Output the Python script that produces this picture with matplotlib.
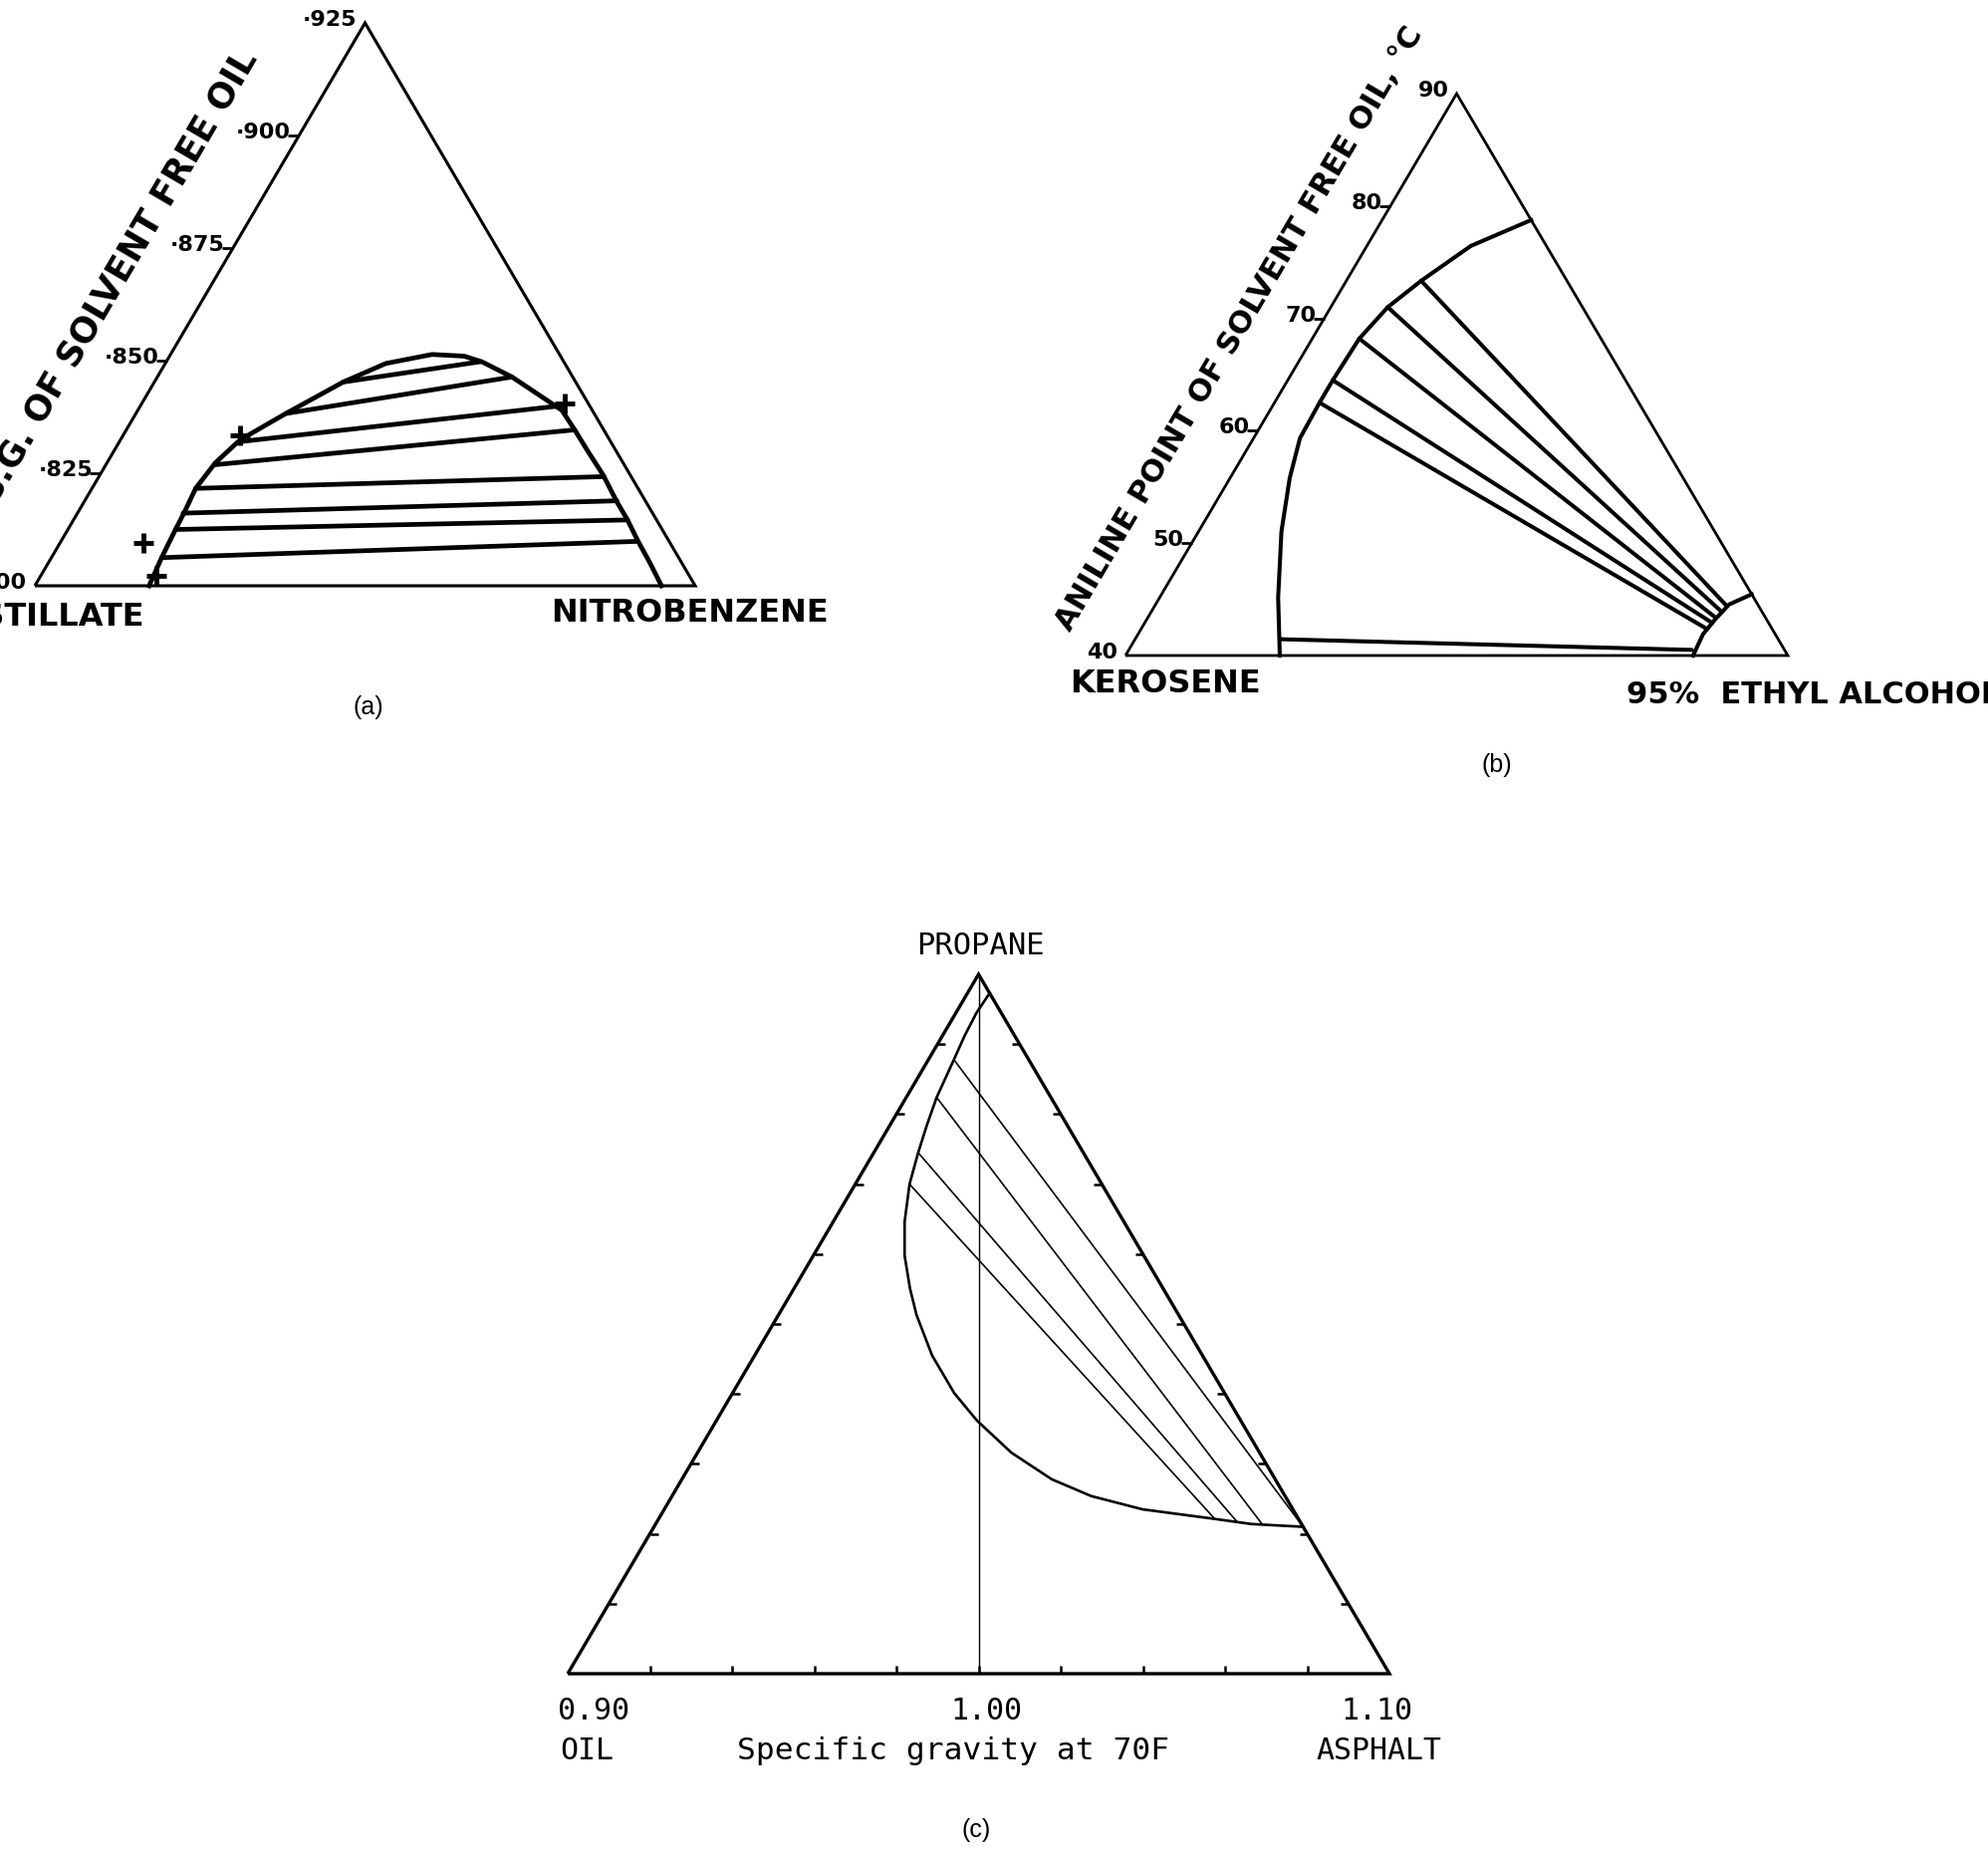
import numpy as np
import matplotlib
matplotlib.use('Agg')
from matplotlib import pyplot as plt

# (a) distillate - nitrobenzene, ternary fractions (s = nitrobenzene, t = top component)
a_curve_s = [0.173, 0.167, 0.163, 0.161, 0.157, 0.164, 0.181, 0.227, 0.286, 0.334, 0.396, 0.446,
             0.478, 0.537, 0.594, 0.642, 0.679, 0.719, 0.762, 0.806, 0.839, 0.874, 0.908, 0.949]
a_curve_t = [0.000, 0.050, 0.100, 0.132, 0.173, 0.218, 0.259, 0.306, 0.362, 0.395, 0.411, 0.408,
             0.398, 0.371, 0.339, 0.312, 0.277, 0.238, 0.197, 0.150, 0.117, 0.079, 0.044, 0.000]
a_tie_left_s = [0.286, 0.227, 0.182, 0.165, 0.157, 0.160, 0.163, 0.167]
a_tie_left_t = [0.362, 0.306, 0.256, 0.215, 0.173, 0.129, 0.100, 0.050]
a_tie_right_s = [0.475, 0.537, 0.638, 0.679, 0.765, 0.806, 0.839, 0.874]
a_tie_right_t = [0.398, 0.371, 0.320, 0.277, 0.194, 0.151, 0.117, 0.079]
a_plus_s = [0.176, 0.641, 0.127, 0.176]
a_plus_t = [0.268, 0.324, 0.076, 0.017]
a_tick_t = [0.0, 0.2, 0.4, 0.6, 0.8, 1.0]
a_tick_labels = ['·800', '·825', '·850', '·875', '·900', '·925']

# (b) kerosene - 95% ethyl alcohol (s = alcohol, t = top component)
b_curve_s = [0.233, 0.179, 0.125, 0.090, 0.070, 0.068, 0.068, 0.071, 0.086, 0.113, 0.157, 0.225]
b_curve_t = [0.000, 0.103, 0.221, 0.316, 0.387, 0.450, 0.490, 0.564, 0.620, 0.667, 0.729, 0.775]
b_arc_s = [0.857, 0.853, 0.858, 0.866, 0.891]
b_arc_t = [0.000, 0.038, 0.064, 0.091, 0.109]
b_tie_left_s = [0.221, 0.068, 0.068, 0.071, 0.086, 0.113]
b_tie_left_t = [0.029, 0.450, 0.490, 0.564, 0.620, 0.667]
b_tie_right_s = [0.850, 0.855, 0.857, 0.858, 0.861, 0.864]
b_tie_right_t = [0.010, 0.047, 0.058, 0.067, 0.078, 0.088]
b_tick_t = [0.0, 0.2, 0.4, 0.6, 0.8, 1.0]
b_tick_labels = ['40', '50', '60', '70', '80', '90']

# (c) oil - asphalt - propane (s = asphalt, t = propane)
c_curve_s = [0.027, 0.025, 0.027, 0.031, 0.037, 0.045, 0.054, 0.066, 0.087, 0.111, 0.141, 0.168,
             0.216, 0.270, 0.317, 0.382, 0.450, 0.510, 0.582, 0.672, 0.725, 0.790]
c_curve_t = [0.973, 0.945, 0.912, 0.878, 0.824, 0.784, 0.745, 0.700, 0.646, 0.598, 0.551, 0.513,
             0.455, 0.401, 0.362, 0.316, 0.278, 0.254, 0.235, 0.222, 0.214, 0.210]
c_tie_left_s = [0.031, 0.037, 0.054, 0.066]
c_tie_left_t = [0.878, 0.824, 0.745, 0.700]
c_tie_right_s = [0.790, 0.738, 0.705, 0.676]
c_tie_right_t = [0.210, 0.214, 0.218, 0.222]
c_ticks = np.arange(1, 10) / 10
c_base_labels = ['0.90', '1.00', '1.10']

W, H = 1996, 1862
fig = plt.figure(figsize=(W / 100, H / 100), dpi=100)
fig.patch.set_facecolor('white')

hand = dict(family='DejaVu Sans', weight='bold')
mono = dict(family='DejaVu Sans Mono')
capf = dict(family='Liberation Sans')


def tri_axes(bl, br_x, apex_y):
    ax = fig.add_axes([bl[0] / W, 1 - bl[1] / H, (br_x - bl[0]) / W, (bl[1] - apex_y) / H])
    ax.set_xlim(0, 1)
    ax.set_ylim(0, 1)
    ax.axis('off')
    ang = np.degrees(np.arctan2(bl[1] - apex_y, (br_x - bl[0]) / 2))
    return ax, ang


def xy(s, t):
    s = np.asarray(s, float)
    t = np.asarray(t, float)
    return s + t / 2, t


def outline(ax, lw):
    ax.plot([0, 1, 0.5, 0], [0, 0, 1, 0], color='k', lw=lw, clip_on=False,
            solid_joinstyle='miter', solid_capstyle='butt')


def ties(ax, ls, lt, rs, rt, lw):
    for i in range(len(ls)):
        x, y = xy([ls[i], rs[i]], [lt[i], rt[i]])
        ax.plot(x, y, color='k', lw=lw, clip_on=False, solid_capstyle='round')


def put(ax, txt, p, dx, dy, **kw):
    ax.annotate(txt, xy=p, xytext=(dx, dy), textcoords='offset pixels', **kw)


# ---------------- (a) ----------------
axa, anga = tri_axes((35, 588), 698, 23)
outline(axa, 2.2)
x, y = xy(a_curve_s, a_curve_t)
axa.plot(x, y, color='k', lw=3.4, clip_on=False, solid_joinstyle='round')
ties(axa, a_tie_left_s, a_tie_left_t, a_tie_right_s, a_tie_right_t, 3.4)
x, y = xy(a_plus_s, a_plus_t)
axa.plot(x, y, ls='none', marker='+', ms=14, mew=3.5, color='k', clip_on=False)
x, y = xy(np.zeros(len(a_tick_t)), a_tick_t)
axa.plot(x[1:-1], y[1:-1], ls='none', marker=0, ms=8, mew=2, color='k', clip_on=False)
for xi, yi, lab in zip(x, y, a_tick_labels):
    put(axa, lab, (xi, yi), -8, 3, ha='right', va='center', fontsize=16, **hand)
put(axa, 'S.G. OF SOLVENT FREE OIL', (0.435, 0.87), -73, 43, ha='right', va='center',
    rotation=anga, rotation_mode='anchor', fontsize=25, **hand)
put(axa, 'DISTILLATE', (0, 0), 110, -32, ha='right', va='center', fontsize=23, **hand)
put(axa, 'NITROBENZENE', (1, 0), -6, -27, ha='center', va='center', fontsize=23, **hand)
put(axa, '(a)', (0.5, 0), 3, -122, ha='center', va='center', fontsize=18, **capf)

# ---------------- (b) ----------------
axb, angb = tri_axes((1130, 658), 1795, 94)
outline(axb, 2.0)
x, y = xy(b_curve_s, b_curve_t)
axb.plot(x, y, color='k', lw=2.9, clip_on=False, solid_joinstyle='round')
x, y = xy(b_arc_s, b_arc_t)
axb.plot(x, y, color='k', lw=2.9, clip_on=False, solid_joinstyle='round')
ties(axb, b_tie_left_s, b_tie_left_t, b_tie_right_s, b_tie_right_t, 2.9)
x, y = xy(np.zeros(len(b_tick_t)), b_tick_t)
axb.plot(x[1:-1], y[1:-1], ls='none', marker=0, ms=8, mew=2, color='k', clip_on=False)
for xi, yi, lab in zip(x, y, b_tick_labels):
    put(axb, lab, (xi, yi), -8, 3, ha='right', va='center', fontsize=16, **hand)
put(axb, 'ANILINE POINT OF SOLVENT FREE OIL, °C', (0.26, 0.52), -58, 35, ha='center',
    va='center', rotation=angb, rotation_mode='anchor', fontsize=22, **hand)
put(axb, 'KEROSENE', (0, 0), 40, -29, ha='center', va='center', fontsize=23, **hand)
put(axb, '95%  ETHYL ALCOHOL', (1, 0), -162, -40, ha='left', va='center', fontsize=22, **hand)
put(axb, '(b)', (0.5, 0), 40, -110, ha='center', va='center', fontsize=18, **capf)

# ---------------- (c) ----------------
axc, angc = tri_axes((570, 1680), 1395, 978)
outline(axc, 2.4)
axc.plot(*xy([0.0, 0.5], [1.0, 0.0]), color='k', lw=1.0, clip_on=False)
x, y = xy(c_curve_s, c_curve_t)
axc.plot(x, y, color='k', lw=1.9, clip_on=False, solid_joinstyle='round')
ties(axc, c_tie_left_s, c_tie_left_t, c_tie_right_s, c_tie_right_t, 1.2)
# inward ticks on the three sides
axc.plot(*xy(np.zeros(9), c_ticks), ls='none', marker=1, ms=6, mew=1.8, color='k')
axc.plot(*xy(1 - c_ticks, c_ticks), ls='none', marker=0, ms=6, mew=1.8, color='k')
axc.plot(*xy(c_ticks, np.zeros(9)), ls='none', marker=2, ms=6, mew=1.8, color='k')
put(axc, 'PROPANE', (0.5, 1), 2, 28, ha='center', va='center', fontsize=22, **mono)
put(axc, c_base_labels[0], (0, 0), -10, -38, ha='left', va='center', fontsize=21.5, **mono)
put(axc, c_base_labels[1], (0.5, 0), 8, -38, ha='center', va='center', fontsize=21.5, **mono)
put(axc, c_base_labels[2], (1, 0), 23, -38, ha='right', va='center', fontsize=21.5, **mono)
put(axc, 'OIL', (0, 0), -8, -77, ha='left', va='center', fontsize=21.5, **mono)
put(axc, 'Specific gravity at 70F', (0.5, 0), -25, -77, ha='center', va='center',
    fontsize=22.5, **mono)
put(axc, 'ASPHALT', (1, 0), 52, -77, ha='right', va='center', fontsize=21.5, **mono)
put(axc, '(c)', (0.5, 0), -2, -157, ha='center', va='center', fontsize=18, **capf)

fig.savefig('out.png', dpi=100, facecolor='white')
